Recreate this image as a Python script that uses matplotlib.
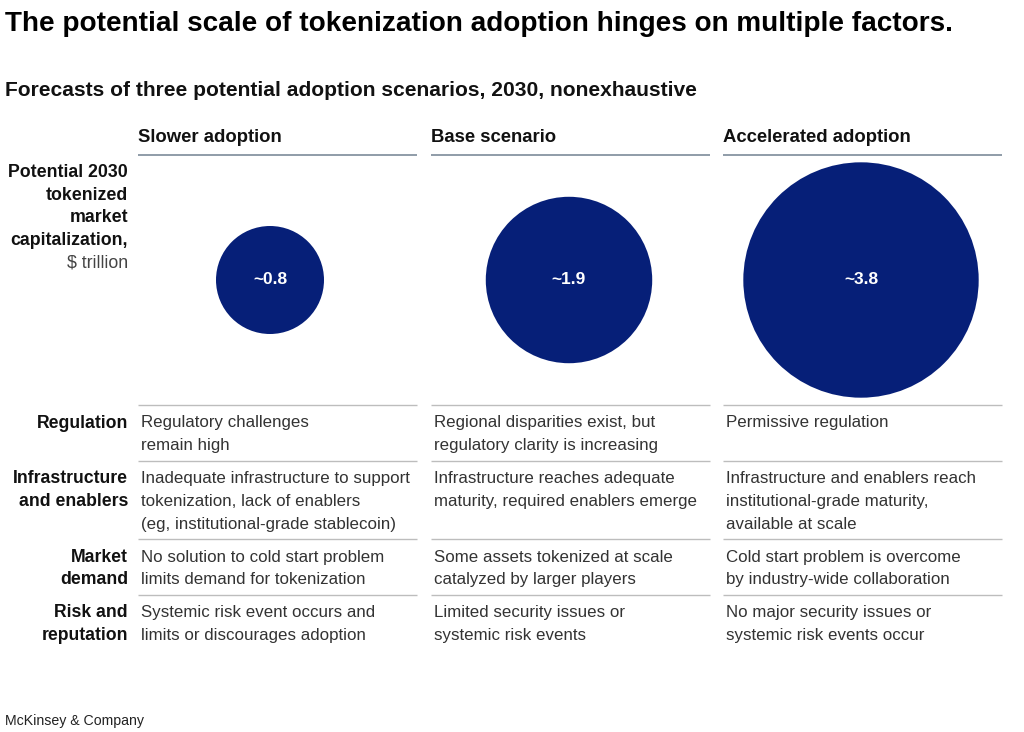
import numpy as np
import matplotlib.pyplot as plt
from matplotlib.patches import Circle

# Data
scenarios = ['Slower adoption', 'Base scenario', 'Accelerated adoption']
market_cap = [0.8, 1.9, 3.8]  # $ trillion
cap_labels = ['~0.8', '~1.9', '~3.8']
factors = ['Regulation', 'Infrastructure\nand enablers', 'Market\ndemand', 'Risk and\nreputation']
descriptions = [
    ['Regulatory challenges\nremain high',
     'Regional disparities exist, but\nregulatory clarity is increasing',
     'Permissive regulation'],
    ['Inadequate infrastructure to support\ntokenization, lack of enablers\n(eg, institutional-grade stablecoin)',
     'Infrastructure reaches adequate\nmaturity, required enablers emerge',
     'Infrastructure and enablers reach\ninstitutional-grade maturity,\navailable at scale'],
    ['No solution to cold start problem\nlimits demand for tokenization',
     'Some assets tokenized at scale\ncatalyzed by larger players',
     'Cold start problem is overcome\nby industry-wide collaboration'],
    ['Systemic risk event occurs and\nlimits or discourages adoption',
     'Limited security issues or\nsystemic risk events',
     'No major security issues or\nsystemic risk events occur'],
]

title = 'The potential scale of tokenization adoption hinges on multiple factors.'
subtitle = 'Forecasts of three potential adoption scenarios, 2030, nonexhaustive'
metric_label = ['Potential 2030', 'tokenized', 'market', 'capitalization,']
metric_unit = '$ trillion'
source = 'McKinsey & Company'

navy = '#061f78'
plt.rcParams['font.family'] = ['Liberation Sans', 'DejaVu Sans']

fig = plt.figure(figsize=(10.24, 7.32), dpi=100)
ax = fig.add_axes([0, 0, 1, 1])
ax.set_xlim(0, 1024)
ax.set_ylim(732, 0)
ax.axis('off')

# layout (pixels)
col_x0 = [138, 431, 723]
col_w = 279
circle_x = [270, 569, 861]
label_x = 128
lh = 22.7

ax.text(5, 24, title, fontsize=20.1, fontweight='bold', va='center', ha='left', color='#000000')
ax.text(5, 91, subtitle, fontsize=15.1, fontweight='bold', va='center', ha='left', color='#111111')

# column headers
for x0, name in zip(col_x0, scenarios):
    ax.text(x0, 138, name, fontsize=13.3, fontweight='bold', va='center', ha='left', color='#111111')
    ax.plot([x0, x0 + col_w], [155, 155], color='#7d8b99', lw=1.2, solid_capstyle='butt')

# metric label
for i, s in enumerate(metric_label):
    ax.text(label_x, 172.5 + i * lh, s, fontsize=12.8, fontweight='bold', va='center', ha='right', color='#111111')
ax.text(label_x, 172.5 + 4 * lh, metric_unit, fontsize=12.8, va='center', ha='right', color='#444444')

# circles, area proportional to value
k = 54 / np.sqrt(market_cap[0])
cy = 280
for cx, v, lab in zip(circle_x, market_cap, cap_labels):
    ax.add_patch(Circle((cx, cy), k * np.sqrt(v), color=navy, lw=0))
    ax.text(cx, cy - 1, lab, fontsize=12.5, fontweight='bold', color='white', ha='center', va='center')

# factors table
y = 405
for f, descs in zip(factors, descriptions):
    for x0 in col_x0:
        ax.plot([x0, x0 + col_w], [y, y], color='#bdbdbd', lw=1.0, solid_capstyle='butt')
    flines = f.split('\n')
    for i, s in enumerate(flines):
        ax.text(label_x, y + 18 + i * lh, s, fontsize=12.7, fontweight='bold', va='center', ha='right', color='#111111')
    nmax = len(flines)
    for x0, d in zip(col_x0, descs):
        lines = d.split('\n')
        nmax = max(nmax, len(lines))
        for i, s in enumerate(lines):
            ax.text(x0 + 3, y + 18 + i * lh, s, fontsize=12.2, va='center', ha='left', color='#333333')
    y += 33 + (nmax - 1) * lh

ax.text(5, 721, source, fontsize=10.2, va='center', ha='left', color='#222222')

fig.savefig('out.png', dpi=100)
